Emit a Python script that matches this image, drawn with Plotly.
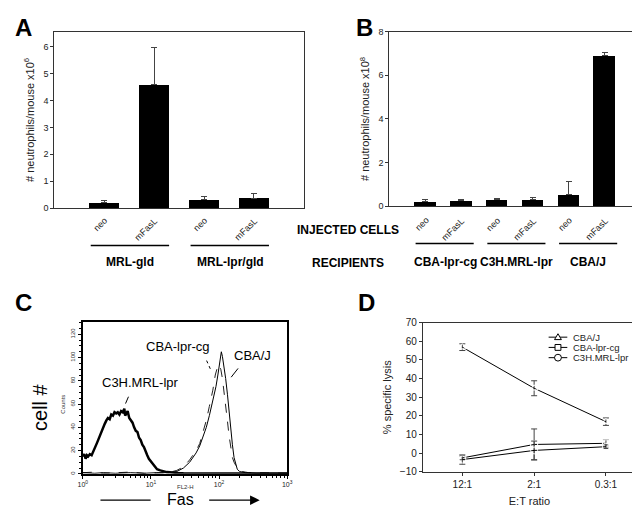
import plotly.graph_objects as go

W, H = 640, 507
FONT = "Arial, Liberation Sans, sans-serif"

# ---------------- Panel A data ----------------
a_cats = ["neo", "mFasL", "neo", "mFasL"]
a_vals = [0.23, 4.58, 0.32, 0.38]
a_err = [0.07, 1.38, 0.12, 0.15]
a_groups = ["MRL-gld", "MRL-lpr/gld"]

# ---------------- Panel B data ----------------
b_cats = ["neo", "mFasL", "neo", "mFasL", "neo", "mFasL"]
b_vals = [0.22, 0.25, 0.33, 0.31, 0.55, 6.9]
b_err = [0.08, 0.08, 0.05, 0.1, 0.57, 0.16]
b_groups = ["CBA-lpr-cg", "C3H.MRL-lpr", "CBA/J"]

# ---------------- Panel C data (FL2-H histogram) ----------------
c3h_x = [1.0, 1.05, 1.1, 1.15, 1.2, 1.27, 1.35, 1.43, 1.51, 1.6,
         1.68, 1.78, 1.88, 1.99, 2.1, 2.22, 2.34, 2.48, 2.62, 2.77,
         2.92, 3.09, 3.26, 3.45, 3.65, 3.86, 4.07, 4.19, 4.3, 4.55,
         4.81, 5.08, 5.37, 5.67, 6.0, 6.34, 6.7, 7.08, 7.48, 7.9,
         8.35, 8.83, 9.33, 9.86, 10.4, 11.0, 11.6, 12.3, 13.7, 15.3,
         17.1, 19.1, 21.4, 23.9, 30, 40, 55, 75, 100, 140,
         200, 300, 450, 650, 1000]
c3h_y = [15, 17, 13, 16, 15, 17, 16, 20, 23, 26,
         29, 33, 36, 40, 43, 46, 48, 47, 51, 50,
         53, 52, 53, 51, 54, 53, 56, 50, 51, 54,
         48, 46, 44, 40, 37, 36, 31, 29, 25, 23,
         19, 16, 13, 11, 9, 7, 6, 4, 3, 2,
         1.5, 1.4, 1, 0.8, 0.5, 0.3, 0.2, 0.2, 0.2, 0.3,
         0.2, 0.2, 0.3, 0.2, 0.2]

cbaj_x = [1, 1.5, 2, 3, 5, 8, 12, 18, 24, 30,
          37, 46, 52, 58, 65, 72, 81, 90, 96, 100,
          104, 108, 112, 118, 125, 133, 140, 148, 157, 166,
          175, 185, 200, 217, 245, 272, 350, 500, 700, 1000]
cbaj_y = [1, 0.5, 1, 0.5, 1, 0.5, 1, 1, 2, 5,
          10, 18, 24, 31, 40, 50, 62, 75, 85, 92,
          100, 105, 101, 93, 82, 68, 54, 38, 25, 14,
          8, 4, 2, 1.5, 1, 1, 0.5, 0.5, 0.5, 0.5]

cbacg_x = [1, 1.5, 2, 3, 5, 8, 12, 18, 24, 30,
           37, 46, 52, 58, 65, 72, 81, 88, 95, 100,
           106, 112, 118, 125, 133, 140, 148, 157, 166, 175,
           185, 200, 217, 245, 272, 350, 500, 700, 1000]
cbacg_y = [1, 1.5, 0.5, 1, 1.5, 0.5, 1, 1, 3, 6,
           12, 20, 26, 35, 46, 58, 72, 85, 92, 94,
           90, 82, 72, 58, 45, 33, 22, 14, 10, 7,
           5, 3, 2, 1.5, 1, 1, 1, 0.5, 0.5]

c_tickvals = [1, 10, 100, 1000]
c_ticktext = ["10<sup>0</sup>", "10<sup>1</sup>", "10<sup>2</sup>", "10<sup>3</sup>"]

# ---------------- Panel D data ----------------
d_cats = ["12:1", "2:1", "0.3:1"]
d_series = ["CBA/J", "CBA-lpr-cg", "C3H.MRL-lpr"]
d_cbaj = [56.8, 34.8, 16.9]
d_cbaj_err = [1.8, 4.0, 2.0]
d_cbacg = [-2.5, 4.7, 5.3]
d_cbacg_err = [1.0, 8.3, 2.0]
d_c3h = [-3.4, 1.5, 3.5]
d_c3h_err = [2.5, 5.0, 1.0]
d_symbols = ["triangle-up-open", "square-open", "circle-open"]


def px(x):
    return x / W


def py(y):
    return 1 - y / H


fig = go.Figure()

# Panel A bars
fig.add_trace(go.Bar(
    x=list(range(len(a_vals))), y=a_vals, width=0.6,
    marker=dict(color="black", line=dict(width=0)),
    error_y=dict(type="data", array=a_err, arrayminus=[0] * len(a_err),
                 symmetric=False, color="#444", thickness=1, width=3),
    xaxis="x", yaxis="y"))

# Panel B bars
fig.add_trace(go.Bar(
    x=list(range(len(b_vals))), y=b_vals, width=0.6,
    marker=dict(color="black", line=dict(width=0)),
    error_y=dict(type="data", array=b_err, arrayminus=[0] * len(b_err),
                 symmetric=False, color="#444", thickness=1, width=3),
    xaxis="x2", yaxis="y2"))

# Panel C histograms
fig.add_trace(go.Scatter(x=cbacg_x, y=cbacg_y, mode="lines",
                         line=dict(color="#222", width=1, dash="dash"),
                         xaxis="x3", yaxis="y3"))
fig.add_trace(go.Scatter(x=cbaj_x, y=cbaj_y, mode="lines",
                         line=dict(color="black", width=1),
                         xaxis="x3", yaxis="y3"))
fig.add_trace(go.Scatter(x=c3h_x, y=c3h_y, mode="lines",
                         line=dict(color="black", width=2.5),
                         xaxis="x3", yaxis="y3"))

# Panel D lines
for vals, errs, sym in zip([d_cbaj, d_cbacg, d_c3h],
                           [d_cbaj_err, d_cbacg_err, d_c3h_err], d_symbols):
    fig.add_trace(go.Scatter(
        x=list(range(len(d_cats))), y=vals, mode="lines+markers",
        line=dict(color="black", width=1),
        marker=dict(symbol=sym, size=7, color="white",
                    line=dict(color="black", width=1)),
        error_y=dict(type="data", array=errs, color="#444", thickness=1, width=3),
        xaxis="x4", yaxis="y4"))

axis_common = dict(showline=True, linecolor="#333", linewidth=1, mirror=True,
                   showgrid=False, zeroline=False,
                   tickfont=dict(family=FONT, size=9, color="#222"))

fig.update_layout(
    width=W, height=H, margin=dict(l=0, r=0, t=0, b=0),
    paper_bgcolor="white", plot_bgcolor="white", showlegend=False,
    font=dict(family=FONT, color="black"),
    bargap=0,
    xaxis=dict(domain=[px(42), px(296)], range=[-1, 4], anchor="y",
               tickmode="array", tickvals=list(range(len(a_cats))),
               showticklabels=False, ticks="", **axis_common),
    yaxis=dict(domain=[py(199), py(18)], range=[0, 6.55], anchor="x",
               tickmode="array", tickvals=[0, 1, 2, 3, 4, 5, 6], ticks="outside",
               ticklen=3, tickcolor="#333",
               title=dict(text="# neutrophils/mouse x10<sup>6</sup>",
                          font=dict(family=FONT, size=11, color="#222"), standoff=6),
               **axis_common),
    xaxis2=dict(domain=[px(383), px(633)], range=[-1, 5.85], anchor="y2",
                tickmode="array", tickvals=list(range(len(b_cats))),
                showticklabels=False, ticks="", **axis_common),
    yaxis2=dict(domain=[py(197), py(18)], range=[0, 8], anchor="x2",
                tickmode="array", tickvals=[0, 2, 4, 6, 8], ticks="outside",
                ticklen=3, tickcolor="#333",
                title=dict(text="# neutrophils/mouse x10<sup>8</sup>",
                           font=dict(family=FONT, size=11, color="#222"), standoff=6),
                **axis_common),
    xaxis3=dict(domain=[px(71), px(279)], type="log", range=[0, 3], anchor="y3",
                showline=True, linecolor="black", linewidth=1.5, mirror=True,
                showgrid=False, zeroline=False,
                tickmode="array", tickvals=c_tickvals, ticktext=c_ticktext,
                ticks="outside", ticklen=3, tickcolor="black",
                tickfont=dict(family=FONT, size=7, color="#222"),
                minor=dict(ticks="outside", ticklen=2, tickcolor="black",
                           tickvals=[2, 3, 4, 5, 6, 7, 8, 9, 20, 30, 40, 50, 60, 70, 80, 90,
                                     200, 300, 400, 500, 600, 700, 800, 900])),
    yaxis3=dict(domain=[py(471), py(315)], range=[0, 131], anchor="x3",
                showline=True, linecolor="black", linewidth=2, mirror=True,
                showgrid=False, zeroline=False,
                tickmode="array", tickvals=[0, 20, 40, 60, 80, 100, 120],
                ticks="outside", ticklen=3, tickcolor="black", tickangle=-90,
                tickfont=dict(family=FONT, size=6, color="#333"),
                minor=dict(ticks="outside", ticklen=2, tickcolor="black", dtick=5)),
    xaxis4=dict(domain=[px(417), px(634)], range=[-0.55, 2.42], anchor="y4",
                tickmode="array", tickvals=list(range(len(d_cats))), ticktext=d_cats,
                ticks="outside", ticklen=3, tickcolor="#333",
                showline=True, linecolor="#333", linewidth=1, mirror=True,
                showgrid=False, zeroline=False,
                tickfont=dict(family=FONT, size=10, color="#222"),
                title=dict(text="E:T ratio", font=dict(family=FONT, size=11, color="#222"),
                           standoff=8)),
    yaxis4=dict(domain=[py(469), py(316)], range=[-10, 70], anchor="x4",
                tickmode="array", tickvals=[-10, 0, 10, 20, 30, 40, 50, 60, 70],
                ticks="outside", ticklen=3, tickcolor="#333",
                showline=True, linecolor="#333", linewidth=1, mirror=True,
                showgrid=False, zeroline=False,
                tickfont=dict(family=FONT, size=10, color="#222"),
                title=dict(text="% specific lysis", font=dict(family=FONT, size=11, color="#222"),
                           standoff=6)),
)

ann = []
shapes = []


def add_text(x, y, text, size, bold=False, angle=0, xanchor="center", color="black"):
    ann.append(dict(x=px(x), y=py(y), xref="paper", yref="paper", text=(f"<b>{text}</b>" if bold else text),
                    showarrow=False, xanchor=xanchor, yanchor="middle", textangle=angle,
                    font=dict(family=FONT, size=size, color=color)))


# Rotated category labels under the bars (A and B)
for xr, cats in (("x", a_cats), ("x2", b_cats)):
    for i, c in enumerate(cats):
        ann.append(dict(x=i, y=py(205), xref=xr, yref="paper", text=c, showarrow=False,
                        textangle=-45, xanchor="right", yanchor="top", xshift=7,
                        borderpad=0, font=dict(family=FONT, size=9, color="#222")))

# Panel letters
add_text(11, 14, "A", 24, bold=True)
add_text(358, 14, "B", 24, bold=True)
add_text(11, 295, "C", 24, bold=True)
add_text(360, 295, "D", 24, bold=True)

# Row labels
add_text(341, 221, "INJECTED CELLS", 12, bold=True)
add_text(341, 255, "RECIPIENTS", 12, bold=True)

# Group underlines and labels (A)
for k, g in enumerate(a_groups):
    shapes.append(dict(type="line", xref="x", yref="paper", x0=2 * k - 0.27, x1=2 * k + 1.3,
                       y0=py(237), y1=py(237), line=dict(color="black", width=1.5)))
    ann.append(dict(x=2 * k + 0.52, y=py(254), xref="x", yref="paper", text=f"<b>{g}</b>",
                    showarrow=False, font=dict(family=FONT, size=12, color="black")))
# Group underlines and labels (B)
for k, g in enumerate(b_groups):
    shapes.append(dict(type="line", xref="x2", yref="paper", x0=2 * k - 0.27, x1=2 * k + 1.35,
                       y0=py(235), y1=py(235), line=dict(color="black", width=1.5)))
    ann.append(dict(x=2 * k + 0.55, y=py(254), xref="x2", yref="paper", text=f"<b>{g}</b>",
                    showarrow=False, font=dict(family=FONT, size=12, color="black")))

# Panel C texts
add_text(28, 403, "cell #", 20, angle=-90)
add_text(50, 400, "Counts", 6, angle=-90, color="#333")
add_text(176, 484, "FL2-H", 6, color="#333")
add_text(170, 497, "Fas", 16)
add_text(130, 377, "C3H.MRL-lpr", 13)
add_text(168, 341, "CBA-lpr-cg", 13)
add_text(244, 350, "CBA/J", 13)
shapes.append(dict(type="line", xref="paper", yref="paper", x0=px(89), x1=px(140),
                   y0=py(498), y1=py(498), line=dict(color="black", width=1.2)))
ann.append(dict(x=px(251), y=py(498), ax=-52, ay=0, xref="paper", yref="paper",
                axref="pixel", ayref="pixel", text="", showarrow=True, arrowhead=2,
                arrowsize=1.6, arrowwidth=1.2, arrowcolor="black"))
# pointer lines
shapes.append(dict(type="line", xref="paper", yref="paper", x0=px(117.5), y0=py(392),
                   x1=px(114.5), y1=py(399), line=dict(color="black", width=1)))
shapes.append(dict(type="line", xref="paper", yref="paper", x0=px(197), y0=py(355),
                   x1=px(201), y1=py(364), line=dict(color="black", width=1, dash="dot")))
shapes.append(dict(type="line", xref="paper", yref="paper", x0=px(229), y0=py(363),
                   x1=px(222), y1=py(372), line=dict(color="black", width=1)))

# Panel D legend (drawn manually for compact spacing)
leg_rows = [331, 341.5, 352]
for row, name, sym in zip(leg_rows, d_series, d_symbols):
    shapes.append(dict(type="line", xref="paper", yref="paper", x0=px(545), x1=px(564),
                       y0=py(row), y1=py(row), line=dict(color="black", width=1)))
    cx = 554.5
    if sym.startswith("triangle"):
        path = f"M {px(cx-3.5)},{py(row+2.5)} L {px(cx+3.5)},{py(row+2.5)} L {px(cx)},{py(row-3.5)} Z"
        shapes.append(dict(type="path", xref="paper", yref="paper", path=path,
                           fillcolor="white", line=dict(color="black", width=1)))
    elif sym.startswith("square"):
        shapes.append(dict(type="rect", xref="paper", yref="paper", x0=px(cx - 3), x1=px(cx + 3),
                           y0=py(row + 3), y1=py(row - 3), fillcolor="white",
                           line=dict(color="black", width=1)))
    else:
        shapes.append(dict(type="circle", xref="paper", yref="paper", x0=px(cx - 3.5), x1=px(cx + 3.5),
                           y0=py(row + 3.5), y1=py(row - 3.5), fillcolor="white",
                           line=dict(color="black", width=1)))
    ann.append(dict(x=px(569), y=py(row), xref="paper", yref="paper", text=name,
                    showarrow=False, xanchor="left", yanchor="middle", borderpad=0,
                    font=dict(family=FONT, size=9.5, color="#222")))

fig.update_layout(annotations=ann, shapes=shapes)

fig.write_html("out.html")
